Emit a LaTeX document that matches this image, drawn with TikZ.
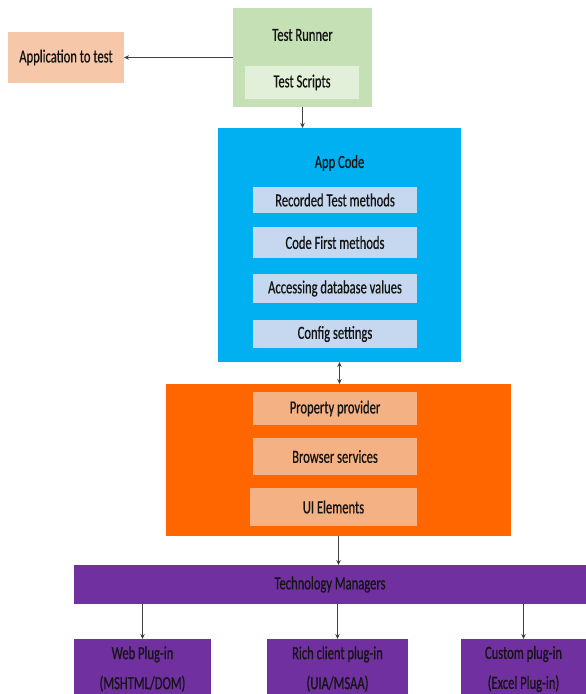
\documentclass[tikz,border=0pt]{standalone}
\usepackage{fontspec}
\setmainfont{Carlito}[FakeStretch=0.68, FakeBold=0.6]
\usetikzlibrary{arrows.meta}
\definecolor{appc}{HTML}{F6C8A9}
\definecolor{runc}{HTML}{C5E0B4}
\definecolor{scrc}{HTML}{E2F0D9}
\definecolor{bluec}{HTML}{00B0F0}
\definecolor{lbluec}{HTML}{C5D8EF}
\definecolor{orc}{HTML}{FF6600}
\definecolor{lorc}{HTML}{F4B183}
\definecolor{purc}{HTML}{7030A0}
\definecolor{txtc}{HTML}{141414}
\tikzset{
  box/.style={rectangle, draw=none, inner sep=0pt, outer sep=0pt, text=txtc,
    font=\fontsize{18.5}{21}\selectfont, align=center},
  lbl/.style={inner sep=0pt, text=txtc, font=\fontsize{18.5}{21}\selectfont},
  conn/.style={draw=black!75, line width=0.9pt, -{Stealth[length=5pt,width=4.5pt]}},
  conn2/.style={draw=black!75, line width=0.9pt, {Stealth[length=5pt,width=4.5pt]}-{Stealth[length=5pt,width=4.5pt]}}
}
\begin{document}
\begin{tikzpicture}[x=1pt,y=-1pt]
\useasboundingbox (0,0) rectangle (586,694);
\clip (0,0) rectangle (586,694);
% Application to test
\node[box, fill=appc, minimum width=116pt, minimum height=51pt] (app) at (66,57.5) {Application to test};
% Test runner
\node[box, fill=runc, minimum width=139pt, minimum height=99pt] (runner) at (302.5,57.5) {};
\node[lbl] (runnert) at (302.5,35) {Test Runner};
\node[box, fill=scrc, minimum width=114pt, minimum height=33pt] (scripts) at (302,82.5) {Test Scripts};
% App code
\node[box, fill=bluec, minimum width=243pt, minimum height=234pt] (appcode) at (339.5,245) {};
\node[lbl] (appcodet) at (339.5,163) {App Code};
\node[box, fill=lbluec, minimum width=164pt, minimum height=26pt] (rec) at (335,200) {Recorded Test methods};
\node[box, fill=lbluec, minimum width=164pt, minimum height=31pt] (cf) at (335,242.5) {Code First methods};
\node[box, fill=lbluec, minimum width=164pt, minimum height=29pt] (adb) at (335,288.5) {Accessing database values};
\node[box, fill=lbluec, minimum width=164pt, minimum height=28pt] (cfg) at (335,334) {Config settings};
% Orange block
\node[box, fill=orc, minimum width=345pt, minimum height=152pt] (orange) at (338.5,460) {};
\node[box, fill=lorc, minimum width=164pt, minimum height=33pt] (pp) at (335,408.5) {Property provider};
\node[box, fill=lorc, minimum width=164pt, minimum height=37pt] (bs) at (335,456.5) {Browser services};
\node[box, fill=lorc, minimum width=167pt, minimum height=38pt] (ui) at (333.5,507) {UI Elements};
% Technology managers
\node[box, fill=purc, minimum width=512pt, minimum height=39pt] (tm) at (330,584.5) {Technology Managers};
% Plug-ins
\node[box, fill=purc, minimum width=137pt, minimum height=60pt] (web) at (142.5,669) {Web Plug-in\\[9pt](MSHTML/DOM)};
\node[box, fill=purc, minimum width=141pt, minimum height=60pt] (rich) at (337.5,669) {Rich client plug-in\\[9pt](UIA/MSAA)};
\node[box, fill=purc, minimum width=125pt, minimum height=60pt] (custom) at (523.5,669) {Custom plug-in\\[9pt](Excel Plug-in)};
% Connectors
\draw[conn] (runner.west) -- (app.east);
\draw[conn] (runner.south) -- (runner.south |- appcode.north);
\draw[conn2] (appcode.south) -- (appcode.south |- orange.north);
\draw[conn] (orange.south) -- (orange.south |- tm.north);
\draw[conn] (web.north |- tm.south) -- (web.north);
\draw[conn] (rich.north |- tm.south) -- (rich.north);
\draw[conn] (custom.north |- tm.south) -- (custom.north);
\end{tikzpicture}
\end{document}
